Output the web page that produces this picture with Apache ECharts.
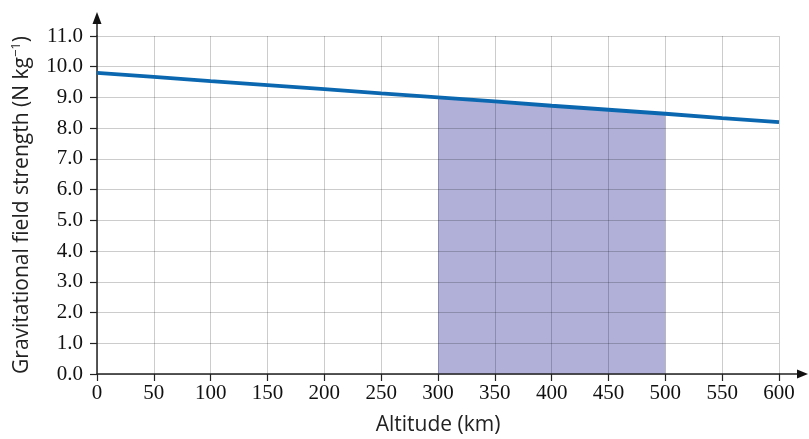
<!DOCTYPE html>
<html><head><meta charset="utf-8">
<script src="https://cdn.jsdelivr.net/npm/echarts@6/dist/echarts.min.js"></script>
<style>html,body{margin:0;padding:0;background:#fff}#c{width:809px;height:439px}</style>
</head><body><div id="c"></div>
<script>
const altitudes = [0, 50, 100, 150, 200, 250, 300, 350, 400, 450, 500, 550, 600];
const fieldStrength = [9.80, 9.67, 9.53, 9.40, 9.27, 9.13, 9.00, 8.87, 8.73, 8.60, 8.47, 8.33, 8.20];
const shadeFrom = 300, shadeTo = 500;
const xTitle = 'Altitude (km)';

const lineData = altitudes.map((a, i) => [a, fieldStrength[i]]);
const shadeData = lineData.filter(d => d[0] >= shadeFrom && d[0] <= shadeTo);

const chart = echarts.init(document.getElementById('c'), null, {renderer: 'canvas'});
const serif = '"Liberation Serif", "DejaVu Serif", serif';
const sans = '"Open Sans", "Noto Sans", sans-serif';
chart.setOption({
  animation: false,
  grid: {left: 97, right: 30, top: 36, bottom: 65, outerBoundsMode: 'none', containLabel: false},
  xAxis: {
    type: 'value', min: 0, max: 600, interval: 50,
    name: xTitle, nameLocation: 'middle', nameGap: 41,
    nameTextStyle: {fontFamily: sans, fontSize: 21, color: '#222'},
    axisLine: {show: true, onZero: false, lineStyle: {color: '#222', width: 1.5}},
    axisTick: {show: true, length: 7, lineStyle: {color: '#222', width: 1.2}},
    axisLabel: {fontFamily: serif, fontSize: 21, color: '#111', margin: 9},
    splitLine: {show: true, lineStyle: {color: 'rgba(0,0,0,0.2)', width: 1}}
  },
  yAxis: {
    type: 'value', min: 0, max: 11, interval: 1,
    name: '{a|Gravitational field strength (N kg}{s|−1}{a|)}', nameLocation: 'middle', nameGap: 62,
    nameTextStyle: {
      rich: {
        a: {fontFamily: sans, fontSize: 21, color: '#222', lineHeight: 25},
        s: {fontFamily: sans, fontSize: 13, color: '#222', lineHeight: 25, verticalAlign: 'top', padding: [0, 0, 7, 0]}
      }
    },
    axisLine: {show: true, lineStyle: {color: '#222', width: 1.5}},
    axisTick: {show: true, length: 7, lineStyle: {color: '#222', width: 1.2}},
    axisLabel: {fontFamily: serif, fontSize: 21, color: '#111', margin: 14, formatter: v => v.toFixed(1)},
    splitLine: {show: true, lineStyle: {color: 'rgba(0,0,0,0.2)', width: 1}}
  },
  series: [
    {
      type: 'line', data: shadeData, z: -1, symbol: 'none', silent: true,
      lineStyle: {width: 0, opacity: 0},
      areaStyle: {color: '#b0b0d8', opacity: 1}
    },
    {
      type: 'line', data: lineData, symbol: 'none', z: 3,
      lineStyle: {color: '#0b68b0', width: 3.8}
    }
  ]
});

// axis arrows extending beyond the plot
const o = chart.convertToPixel({gridIndex: 0}, [0, 0]);
const xe = chart.convertToPixel({gridIndex: 0}, [600, 0]);
const ye = chart.convertToPixel({gridIndex: 0}, [0, 11]);
const xEnd = xe[0] + 29, yEnd = ye[1] - 24;
chart.setOption({
  graphic: [
    {type: 'line', shape: {x1: xe[0], y1: o[1], x2: xEnd - 9, y2: o[1]}, style: {stroke: '#222', lineWidth: 1.5}, z: 10},
    {type: 'polygon', shape: {points: [[xEnd, o[1]], [xEnd - 11, o[1] - 4.5], [xEnd - 11, o[1] + 4.5]]}, style: {fill: '#111'}, z: 10},
    {type: 'line', shape: {x1: o[0], y1: ye[1], x2: o[0], y2: yEnd + 9}, style: {stroke: '#222', lineWidth: 1.5}, z: 10},
    {type: 'polygon', shape: {points: [[o[0], yEnd], [o[0] - 4.5, yEnd + 12], [o[0] + 4.5, yEnd + 12]]}, style: {fill: '#111'}, z: 10}
  ]
});
</script></body></html>
